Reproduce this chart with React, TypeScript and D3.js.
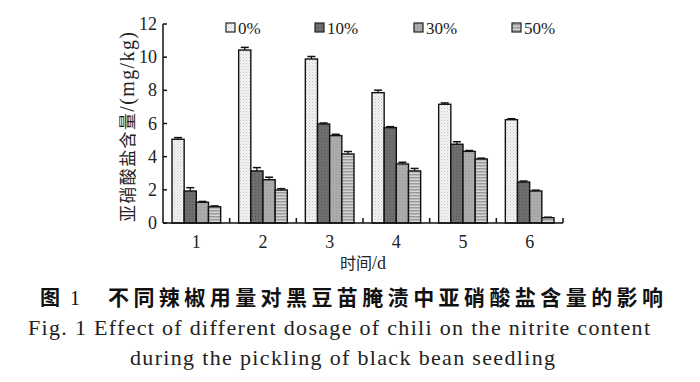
import React from "react";
import * as d3 from "d3";

const days = ["1", "2", "3", "4", "5", "6"];
const seriesNames = ["0%", "10%", "30%", "50%"];
const v0 = [5.05, 10.43, 9.89, 7.86, 7.16, 6.23];
const v10 = [1.93, 3.14, 5.97, 5.75, 4.75, 2.47];
const v30 = [1.25, 2.61, 5.27, 3.56, 4.32, 1.93];
const v50 = [0.98, 1.99, 4.16, 3.14, 3.86, 0.32];
const e0 = [0.1, 0.16, 0.15, 0.15, 0.08, 0.06];
const e10 = [0.2, 0.2, 0.06, 0.06, 0.15, 0.06];
const e30 = [0.05, 0.15, 0.08, 0.1, 0.05, 0.05];
const e50 = [0.05, 0.08, 0.15, 0.15, 0.05, 0.03];
const yTicks = [0, 2, 4, 6, 8, 10, 12];

const values = [v0, v10, v30, v50];
const errors = [e0, e10, e30, e50];
const fills = ["url(#p0)", "url(#p1)", "url(#p2)", "url(#p3)"];

export default function App() {
  const W = 700, H = 382;
  const left = 163, right = 563, top = 24, bottom = 223;
  const x = d3.scaleBand().domain(days).range([left, right]).paddingInner(0.27).paddingOuter(0.135);
  const xs = d3.scaleBand().domain(seriesNames).range([0, x.bandwidth()]);
  const y = d3.scaleLinear().domain([0, 12]).range([bottom, top]);
  const step = (right - left) / days.length;
  const serif = "'Liberation Serif', 'DejaVu Serif', serif";
  const cjk = "'Noto Sans CJK SC', sans-serif";
  const legendX = [226, 315, 414, 512];

  return (
    <svg width={W} height={H} style={{ position: "absolute", left: 0, top: 0, background: "#fff" }}>
      <defs>
        <pattern id="p0" width="3" height="3" patternUnits="userSpaceOnUse">
          <rect width="3" height="3" fill="#f4f4f4" />
          <rect x="0" y="0" width="1" height="1" fill="#c4c4c4" />
          <rect x="1.5" y="1.5" width="1" height="1" fill="#d2d2d2" />
        </pattern>
        <pattern id="p1" width="3" height="3" patternUnits="userSpaceOnUse">
          <rect width="3" height="3" fill="#6e6e6e" />
          <rect x="0" y="0" width="1" height="1" fill="#5a5a5a" />
        </pattern>
        <pattern id="p2" width="3" height="3" patternUnits="userSpaceOnUse">
          <rect width="3" height="3" fill="#ababab" />
          <rect x="0" y="0" width="1" height="1" fill="#9a9a9a" />
        </pattern>
        <pattern id="p3" width="4" height="3" patternUnits="userSpaceOnUse">
          <rect width="4" height="3" fill="#d6d6d6" />
          <rect x="0" y="0" width="4" height="1.5" fill="#9a9a9a" />
        </pattern>
      </defs>

      {/* legend */}
      {seriesNames.map((s, i) => (
        <g key={s}>
          <rect x={legendX[i]} y={23} width={9} height={9} fill={fills[i]} stroke="#222" strokeWidth={1.2} />
          <text x={legendX[i] + 12} y={34} fontFamily={serif} fontSize={17} fill="#222">{s}</text>
        </g>
      ))}

      {/* bars */}
      {days.map((d, di) => (
        <g key={d}>
          {seriesNames.map((s, si) => {
            const val = values[si][di];
            const bx = (x(d) as number) + (xs(s) as number);
            const bw = xs.bandwidth();
            const cx = bx + bw / 2;
            const yt = y(val + errors[si][di]);
            return (
              <g key={s}>
                <line x1={cx} x2={cx} y1={y(val)} y2={yt} stroke="#111" strokeWidth={1.2} />
                <line x1={cx - 4} x2={cx + 4} y1={yt} y2={yt} stroke="#111" strokeWidth={1.5} />
                <rect x={bx} y={y(val)} width={bw} height={bottom - y(val)} fill={fills[si]} stroke="#111" strokeWidth={1.4} />
              </g>
            );
          })}
        </g>
      ))}

      {/* y axis */}
      <line x1={left} x2={left} y1={top} y2={bottom} stroke="#111" strokeWidth={1.5} />
      {yTicks.map((t) => (
        <g key={t}>
          <line x1={left} x2={left + 4} y1={y(t)} y2={y(t)} stroke="#111" strokeWidth={1.5} />
          <text x={left - 6} y={y(t) + 6} textAnchor="end" fontFamily={serif} fontSize={18} fill="#222">{t}</text>
        </g>
      ))}

      {/* x axis */}
      <line x1={left} x2={right} y1={bottom} y2={bottom} stroke="#111" strokeWidth={1.5} />
      {d3.range(1, days.length + 1).map((k) => (
        <line key={k} x1={left + k * step} x2={left + k * step} y1={bottom} y2={bottom - 5} stroke="#111" strokeWidth={1.5} />
      ))}
      {days.map((d) => (
        <text key={d} x={(x(d) as number) + x.bandwidth() / 2} y={248} textAnchor="middle" fontFamily={serif} fontSize={18} fill="#222">{d}</text>
      ))}
      <text x={363} y={269} textAnchor="middle" fontFamily={cjk} fontSize={16} fill="#222">
        时间<tspan fontFamily={serif} fontSize={18}>/d</tspan>
      </text>

      {/* y label */}
      <text transform="translate(134,127) rotate(-90)" textAnchor="middle" fontFamily={cjk} fontSize={17} fill="#222" textLength={190}>
        亚硝酸盐含量<tspan fontFamily={serif} fontSize={20}>/(mg/kg)</tspan>
      </text>

      {/* captions */}
      <text x={40} y={305} fontFamily={cjk} fontWeight="bold" fontSize={20} fill="#111">图</text>
      <text x={70} y={305} fontFamily={serif} fontSize={20} fill="#111">1</text>
      <text x={108} y={305} fontFamily={cjk} fontWeight="bold" fontSize={21} fill="#111" textLength={555}>
        不同辣椒用量对黑豆苗腌渍中亚硝酸盐含量的影响
      </text>
      <text x={28} y={335} fontFamily={serif} fontSize={22} fill="#222" textLength={622}>
        Fig. 1 Effect of different dosage of chili on the nitrite content
      </text>
      <text x={130} y={365} fontFamily={serif} fontSize={22} fill="#222" textLength={425}>
        during the pickling of black bean seedling
      </text>
    </svg>
  );
}
